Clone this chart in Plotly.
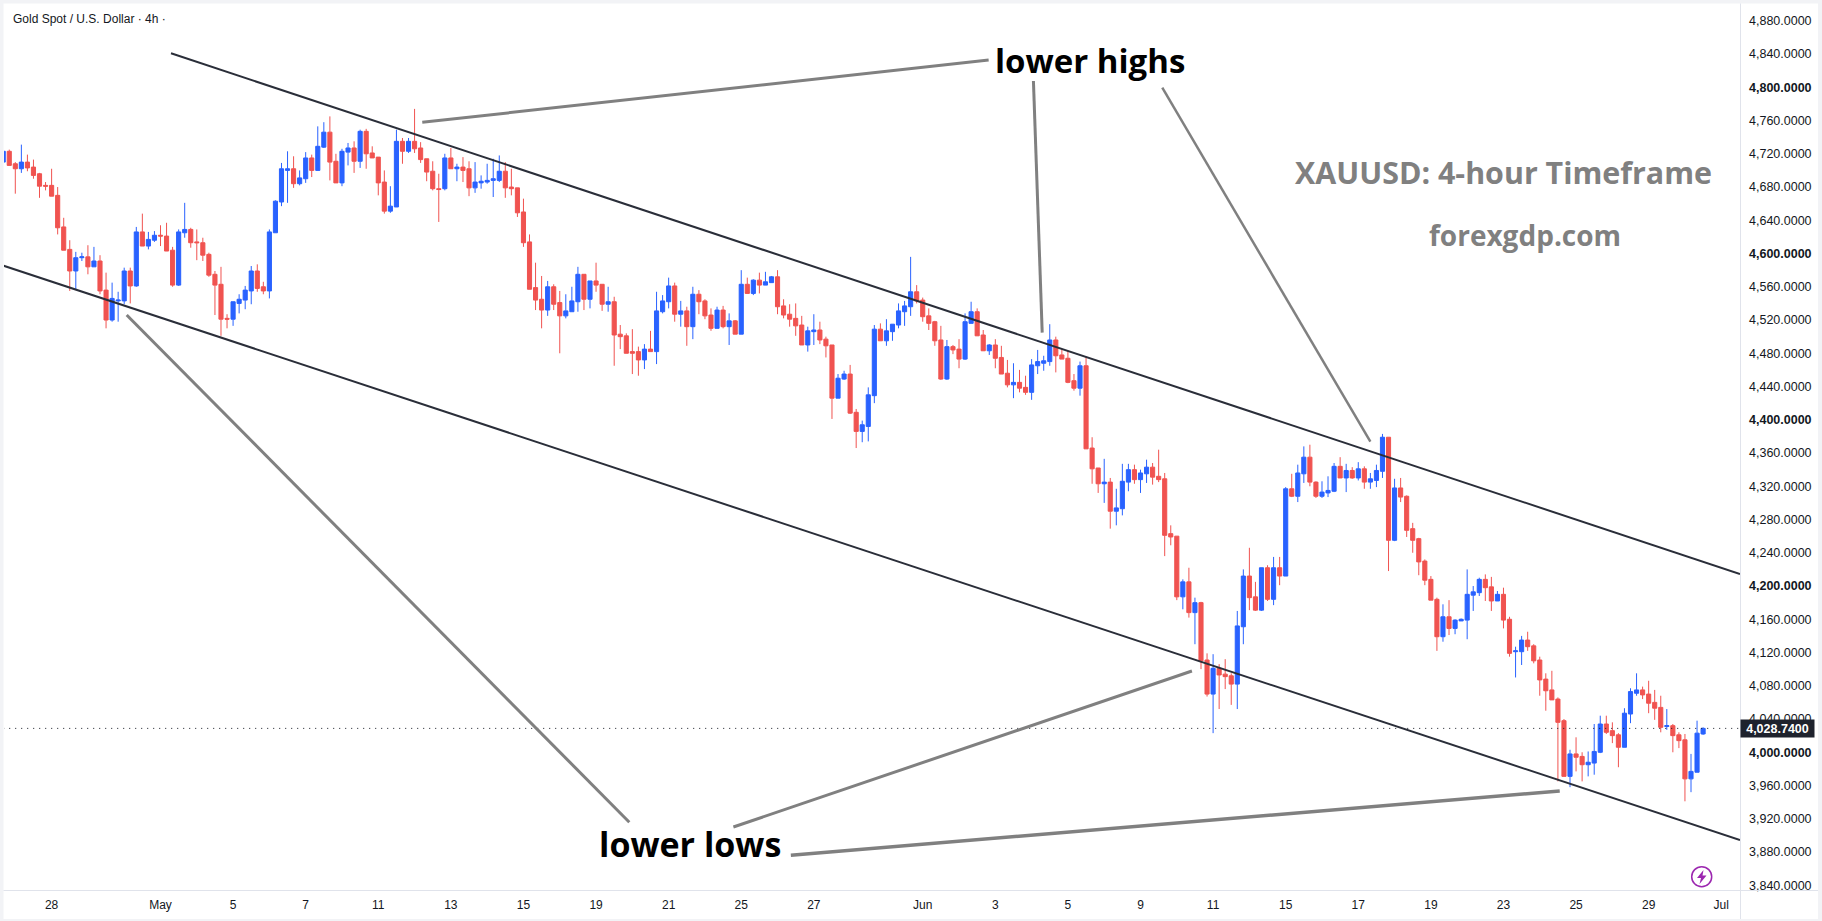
import plotly.graph_objects as go

# XAUUSD 4-hour candles. Bars are numbered by position, with 0 at the 28 April open.
bar_index = list(range(-8, 274))

opens = [
    4710,4723,4708,4702,4710,4704,4696,4682,4682,4670,
    4632,4605,4579,4595,4596,4584,4591,4556,4520,4543,
    4543,4579,4561,4626,4609,4616,4622,4621,4604,4562,
    4625,4629,4614,4613,4599,4575,4563,4522,4521,4540,
    4544,4555,4579,4560,4555,4625,4662,4700,4702,4684,
    4690,4715,4700,4728,4746,4711,4685,4722,4727,4711,
    4747,4721,4716,4686,4651,4656,4735,4723,4735,4727,
    4714,4699,4678,4678,4715,4702,4704,4702,4679,4685,
    4686,4688,4688,4699,4680,4679,4650,4614,4559,4545,
    4532,4560,4541,4525,4530,4542,4575,4545,4567,4563,
    4539,4542,4503,4501,4482,4482,4472,4485,4482,4530,
    4542,4561,4527,4531,4512,4551,4543,4526,4510,4532,
    4512,4519,4503,4563,4552,4568,4562,4565,4572,4537,
    4527,4522,4514,4490,4506,4508,4497,4490,4426,4449,
    4455,4409,4386,4392,4429,4509,4495,4506,4514,4530,
    4536,4554,4544,4525,4518,4496,4449,4488,4485,4473,
    4516,4530,4502,4483,4490,4475,4456,4442,4445,4439,
    4433,4465,4468,4470,4496,4478,4474,4447,4438,4465,
    4366,4342,4323,4325,4290,4293,4325,4340,4328,4335,
    4343,4332,4329,4263,4260,4187,4205,4168,4180,4111,
    4070,4101,4094,4092,4082,4151,4212,4187,4171,4222,
    4184,4222,4212,4317,4308,4335,4355,4325,4308,4312,
    4314,4344,4330,4339,4330,4341,4325,4327,4338,4379,
    4255,4318,4308,4269,4257,4230,4208,4184,4139,4163,
    4149,4158,4159,4189,4192,4208,4199,4182,4190,4160,
    4121,4121,4135,4128,4111,4088,4075,4064,4038,3971,
    3998,3995,3985,3987,4000,4034,4026,4021,4006,4046,
    4071,4075,4070,4060,4054,4031,4032,4021,4015,3968,
    3976,4022,
]

highs = [
    4723,4725,4710,4731,4719,4713,4697,4686,4702,4680,
    4643,4616,4602,4601,4610,4608,4598,4577,4565,4554,
    4583,4583,4632,4648,4626,4627,4634,4637,4608,4629,
    4661,4631,4629,4619,4601,4579,4584,4527,4542,4551,
    4561,4585,4587,4566,4629,4664,4709,4723,4717,4700,
    4722,4719,4753,4758,4765,4720,4726,4733,4735,4749,
    4750,4729,4716,4700,4681,4749,4739,4739,4774,4734,
    4714,4711,4696,4720,4727,4708,4716,4711,4710,4694,
    4708,4714,4718,4710,4702,4679,4666,4623,4589,4573,
    4567,4563,4555,4551,4560,4584,4575,4567,4589,4563,
    4560,4548,4514,4504,4509,4488,4491,4507,4554,4550,
    4571,4565,4543,4536,4560,4556,4545,4534,4536,4537,
    4528,4520,4580,4571,4569,4577,4578,4573,4580,4545,
    4539,4540,4525,4512,4527,4518,4500,4490,4455,4459,
    4466,4413,4399,4439,4514,4516,4521,4515,4540,4543,
    4596,4562,4547,4534,4519,4513,4496,4490,4497,4528,
    4542,4534,4508,4491,4497,4489,4472,4468,4460,4453,
    4473,4484,4477,4515,4500,4485,4483,4455,4470,4476,
    4379,4342,4353,4330,4317,4347,4347,4346,4340,4352,
    4348,4364,4336,4273,4260,4208,4222,4186,4181,4119,
    4118,4106,4112,4095,4170,4220,4246,4205,4222,4225,
    4235,4235,4319,4335,4346,4368,4370,4326,4326,4332,
    4348,4355,4347,4343,4349,4344,4336,4346,4383,4379,
    4329,4330,4309,4276,4258,4232,4212,4186,4178,4183,
    4160,4161,4220,4200,4210,4214,4211,4194,4198,4163,
    4127,4140,4145,4130,4115,4095,4098,4066,4040,4003,
    4018,4000,4001,4034,4044,4044,4036,4023,4053,4077,
    4095,4079,4086,4075,4068,4052,4034,4024,4022,3998,
    4038,4030,
]

lows = [
    4710,4706,4672,4697,4699,4690,4667,4676,4669,4623,
    4604,4555,4557,4591,4575,4584,4551,4510,4518,4518,
    4539,4540,4560,4609,4605,4614,4609,4603,4560,4561,
    4619,4607,4592,4591,4572,4526,4501,4510,4513,4528,
    4533,4539,4554,4551,4546,4625,4657,4661,4679,4682,
    4685,4692,4700,4727,4688,4685,4681,4706,4697,4703,
    4702,4715,4670,4648,4649,4656,4708,4721,4721,4709,
    4687,4676,4638,4676,4702,4687,4686,4669,4673,4678,
    4684,4668,4686,4667,4670,4644,4608,4557,4532,4510,
    4525,4532,4480,4522,4530,4530,4532,4534,4554,4531,
    4530,4465,4485,4480,4455,4453,4461,4482,4467,4528,
    4534,4518,4512,4489,4497,4527,4521,4507,4510,4510,
    4490,4503,4503,4552,4550,4552,4562,4565,4527,4522,
    4512,4501,4490,4482,4490,4491,4475,4401,4426,4448,
    4407,4366,4373,4374,4420,4495,4489,4495,4510,4513,
    4525,4540,4518,4508,4489,4448,4448,4479,4462,4472,
    4516,4501,4483,4478,4462,4455,4439,4426,4433,4430,
    4424,4455,4459,4465,4457,4473,4444,4435,4429,4365,
    4323,4312,4300,4269,4273,4285,4314,4323,4312,4324,
    4322,4325,4236,4249,4183,4172,4162,4130,4100,4067,
    4023,4052,4076,4057,4052,4130,4171,4170,4170,4182,
    4177,4201,4212,4307,4301,4324,4320,4306,4306,4307,
    4313,4330,4313,4329,4327,4317,4317,4319,4330,4218,
    4254,4301,4259,4240,4213,4201,4183,4122,4133,4141,
    4142,4158,4136,4170,4188,4182,4170,4182,4149,4115,
    4090,4105,4122,4107,4068,4050,4063,3965,3971,3958,
    3977,3965,3971,3973,3999,4022,4011,3982,4006,4035,
    4068,4064,4047,4039,4024,4027,4000,4005,3941,3952,
    3976,4021,
]

closes = [
    4723,4706,4702,4710,4703,4694,4681,4681,4669,4631,
    4604,4579,4595,4596,4584,4591,4555,4520,4546,4544,
    4579,4561,4626,4609,4617,4622,4621,4603,4562,4626,
    4629,4613,4613,4598,4574,4562,4521,4521,4542,4545,
    4556,4579,4558,4555,4626,4663,4702,4702,4684,4691,
    4715,4700,4729,4746,4710,4685,4723,4727,4711,4747,
    4720,4715,4685,4651,4657,4735,4723,4735,4726,4713,
    4698,4678,4677,4715,4702,4704,4700,4679,4686,4687,
    4688,4690,4699,4679,4678,4649,4613,4557,4544,4532,
    4560,4539,4525,4531,4543,4575,4545,4567,4562,4539,
    4542,4502,4500,4480,4480,4472,4485,4482,4531,4543,
    4561,4527,4531,4512,4551,4542,4525,4510,4532,4512,
    4519,4503,4563,4552,4568,4562,4566,4572,4536,4526,
    4521,4513,4490,4507,4508,4496,4489,4426,4450,4455,
    4408,4386,4394,4430,4509,4495,4507,4515,4531,4537,
    4554,4543,4524,4516,4495,4449,4488,4484,4473,4518,
    4530,4501,4483,4490,4474,4455,4442,4445,4438,4433,
    4466,4470,4471,4496,4477,4473,4445,4438,4465,4365,
    4341,4323,4325,4290,4294,4326,4340,4328,4336,4343,
    4331,4328,4261,4259,4187,4205,4168,4180,4110,4070,
    4101,4093,4091,4082,4152,4212,4186,4171,4222,4184,
    4222,4212,4317,4308,4336,4355,4325,4308,4313,4315,
    4344,4330,4339,4330,4341,4325,4329,4339,4379,4255,
    4318,4307,4267,4255,4229,4207,4183,4139,4163,4149,
    4159,4160,4190,4193,4208,4198,4182,4190,4159,4119,
    4122,4135,4127,4110,4087,4074,4063,4036,3971,3998,
    3994,3985,3988,4001,4034,4024,4020,4006,4047,4073,
    4075,4069,4059,4053,4030,4032,4020,4014,3968,3977,
    4023,4028.74,
]

# Time axis labels and the bar each one sits on.
date_labels = ["28","May","5","7","11","13","15","19","21","25","27",
               "Jun","3","5","9","11","15","17","19","23","25","29","Jul"]
date_positions = [0,18,30,42,54,66,78,90,102,114,126,
                  144,156,168,180,192,204,216,228,240,252,264,276]

# Price axis levels; every 200 is emphasised.
price_levels = list(range(3840, 4881, 40))
last_price = 4028.74

# Descending channel: (bar, price) at each end.
channel_upper_bars = [19.74, 279.1]
channel_upper_prices = [4840.9, 4214.5]
channel_lower_bars = [-7.95, 279.1]
channel_lower_prices = [4585.4, 3894.5]

# Callout leader lines: name -> (bars, prices, width).
callouts = {
    "high_a": ([61.27, 154.9], [4757.9, 4832.8], 3),
    "high_b": ([162.3, 163.75], [4807.6, 4504.8], 3),
    "high_c": ([183.6, 218.0], [4799.5, 4373.7], 2.5),
    "low_a": ([12.41, 95.5], [4526.1, 3915.8], 3),
    "low_b": ([112.7, 188.5], [3910.1, 4097.8], 3),
    "low_c": ([122.2, 249.3], [3876.1, 3953.4], 3.5),
}

WIDTH, HEIGHT = 1822, 921
LEFT, RIGHT, TOP, BOTTOM = 4, 82, 4, 31
UP, DOWN = "#2962FF", "#F05350"
GREY = "#808080"
INK = "#131722"
EDGE = "#E0E3EB"
FRAME = "#F2F3F6"


def paper_x(px):
    return (px - LEFT) / (WIDTH - LEFT - RIGHT)


def paper_y(py):
    return 1 - (py - TOP) / (HEIGHT - TOP - BOTTOM)


def paper_rect(x0, y0, x1, y1, color):
    return dict(type="rect", xref="paper", yref="paper", layer="above",
                x0=paper_x(x0), x1=paper_x(x1), y0=paper_y(y0), y1=paper_y(y1),
                fillcolor=color, line=dict(width=0))


fig = go.Figure()

# Last-price marker runs beneath the candles.
fig.add_trace(go.Scatter(
    x=[bar_index[0], 279.1], y=[last_price, last_price], mode="lines",
    line=dict(color=INK, width=1, dash="1px,5px"), hoverinfo="skip"))

fig.add_trace(go.Candlestick(
    x=bar_index, open=opens, high=highs, low=lows, close=closes,
    increasing=dict(line=dict(color=UP, width=1), fillcolor=UP),
    decreasing=dict(line=dict(color=DOWN, width=1), fillcolor=DOWN),
    whiskerwidth=0, hoverinfo="skip"))

for bars, prices in ((channel_upper_bars, channel_upper_prices),
                     (channel_lower_bars, channel_lower_prices)):
    fig.add_trace(go.Scatter(x=bars, y=prices, mode="lines",
                             line=dict(color="#2A2E39", width=2), hoverinfo="skip"))

for bars, prices, line_width in callouts.values():
    fig.add_trace(go.Scatter(x=bars, y=prices, mode="lines",
                             line=dict(color=GREY, width=line_width), hoverinfo="skip"))


def big_text(text, bar, price, size, color, weight=700):
    return dict(text=text, x=bar, y=price, xref="x", yref="y", showarrow=False,
                xanchor="center", yanchor="middle",
                font=dict(family="Open Sans", size=size, color=color, weight=weight))


annotations = [
    big_text("lower highs", 171.7, 4832, 33, "#000000"),
    big_text("lower lows", 105.5, 3889.7, 34, "#000000"),
    big_text("XAUUSD: 4-hour Timeframe", 240, 4697, 30.4, GREY),
    big_text("forexgdp.com", 243.6, 4622, 28, GREY),
    dict(text="Gold Spot / U.S. Dollar · 4h ·", x=paper_x(11), y=paper_y(19),
         xref="paper", yref="paper", showarrow=False, xanchor="left", yanchor="middle",
         font=dict(family="Liberation Sans", size=12, color=INK)),
    dict(text=f"<b>{last_price:,.4f}</b>", x=paper_x(1777.4), y=last_price,
         xref="paper", yref="y", showarrow=False, xanchor="center", yanchor="middle",
         width=73, height=17, bgcolor="#1E222D", borderpad=0,
         font=dict(family="Liberation Sans", size=12.5, color="#FFFFFF")),
]

# Lightning badge near the bottom-right corner of the plot area.
bolt_points = [(1703.5, 870), (1697, 878), (1701, 878), (1699.5, 884), (1706.5, 875.5), (1702.5, 875.5)]
bolt_path = "M " + " L ".join(f"{paper_x(x)},{paper_y(y)}" for x, y in bolt_points) + " Z"

shapes = [
    paper_rect(0, 0, WIDTH, 3.5, FRAME),
    paper_rect(0, 919, WIDTH, HEIGHT, FRAME),
    paper_rect(0, 0, 3.5, HEIGHT, FRAME),
    paper_rect(1818, 0, WIDTH, HEIGHT, FRAME),
    paper_rect(1740, 3.5, 1741, 919, EDGE),
    paper_rect(3.5, 890, 1818, 891, EDGE),
    dict(type="circle", xref="paper", yref="paper", layer="above",
         x0=paper_x(1691.7), x1=paper_x(1711.7), y0=paper_y(866.7), y1=paper_y(886.7),
         line=dict(color="#9C27B0", width=1.5), fillcolor="#FFFFFF"),
    dict(type="path", xref="paper", yref="paper", layer="above", path=bolt_path,
         fillcolor="#9C27B0", line=dict(width=0)),
]

fig.update_layout(
    width=WIDTH, height=HEIGHT, autosize=False,
    margin=dict(l=LEFT, r=RIGHT, t=TOP, b=BOTTOM, pad=0),
    paper_bgcolor="#FFFFFF", plot_bgcolor="#FFFFFF",
    showlegend=False, annotations=annotations, shapes=shapes,
    boxgap=0.15, boxgroupgap=0.2,
    xaxis=dict(
        range=[-7.87, 279.1], rangeslider=dict(visible=False), showgrid=False, zeroline=False,
        tickmode="array", tickvals=date_positions, ticktext=date_labels, tickangle=0,
        ticks="", ticklabelstandoff=6, showline=False,
        tickfont=dict(family="Liberation Sans", size=12, color=INK)),
    yaxis=dict(
        range=[3834.3, 4900.2], side="right", showgrid=False, zeroline=False,
        tickmode="array", tickvals=price_levels,
        ticktext=[f"<b>{p:,.4f}</b>" if p % 200 == 0 else f"{p:,.4f}" for p in price_levels],
        ticks="", ticklabelstandoff=8, showline=False,
        tickfont=dict(family="Liberation Sans", size=12.5, color=INK)),
)

fig.write_html("out.html", config=dict(displayModeBar=False))
